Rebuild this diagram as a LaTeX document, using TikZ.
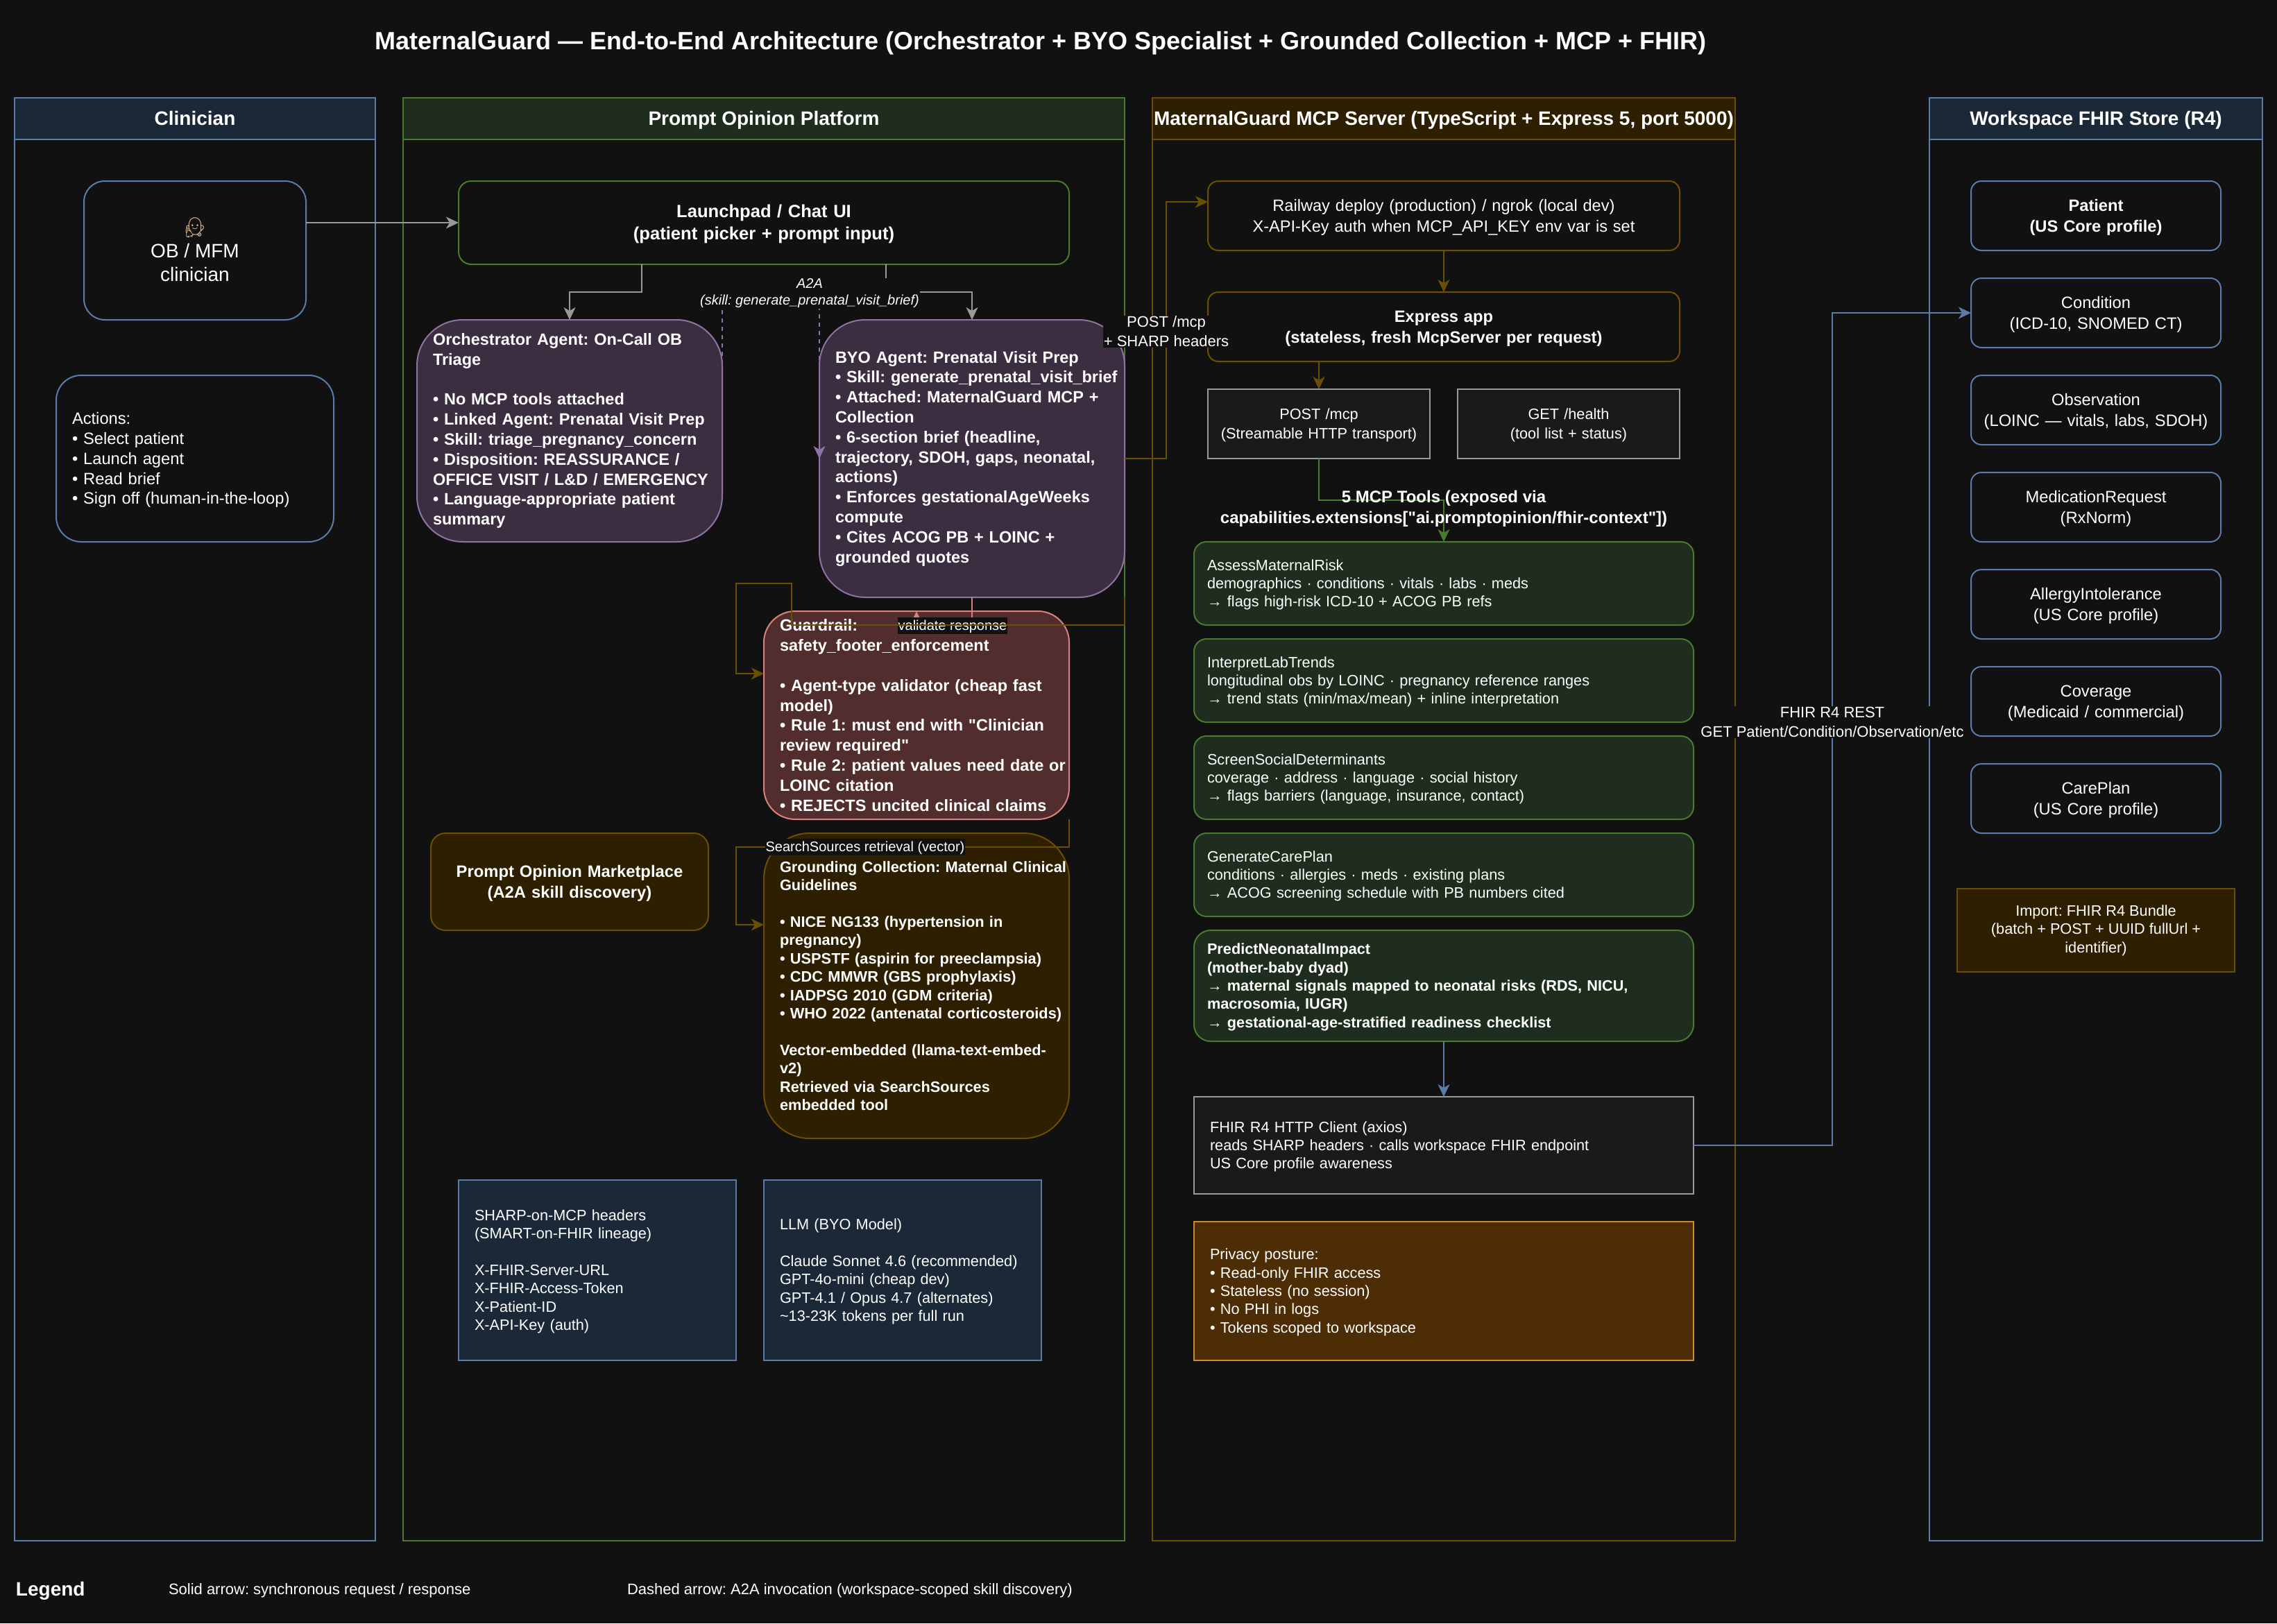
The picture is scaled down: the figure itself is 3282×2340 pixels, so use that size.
\documentclass[tikz,border=0pt]{standalone}
\usepackage{fontspec}
\setmainfont{Liberation Sans}[Ligatures=TeXOff]
\newfontfamily\emojifont{Noto Emoji}
\usetikzlibrary{arrows.meta}
\frenchspacing

\definecolor{cbg}{HTML}{111111}
\definecolor{cblue}{HTML}{5B7BA8}
\definecolor{cbluefill}{HTML}{1B2838}
\definecolor{cgreen}{HTML}{4A7A2E}
\definecolor{cgreenfill}{HTML}{1F2D1F}
\definecolor{cbrown}{HTML}{6B4F00}
\definecolor{cbrownfill}{HTML}{2D1F00}
\definecolor{cpurple}{HTML}{8F72A3}
\definecolor{cpurplefill}{HTML}{3A2E40}
\definecolor{cred}{HTML}{D98080}
\definecolor{credfill}{HTML}{522D2D}
\definecolor{cgrey}{HTML}{999999}
\definecolor{cgreyfill}{HTML}{1A1A1A}
\definecolor{corange}{HTML}{CC8A2E}
\definecolor{corangefill}{HTML}{4D2D06}
\definecolor{cemoji}{HTML}{E3B98F}

\tikzset{
  strutsize/.store in=\strutsize,
  strutsize=.9em,
  every node/.style={text=white,inner sep=0pt,outer sep=0pt,execute at begin node={\rule{0pt}{\strutsize}}},
  dim/.style 2 args={minimum width=#1,minimum height=#2},
  fnt/.style 2 args={font=\fontsize{#1}{#2}\selectfont},
  fntb/.style 2 args={font=\fontsize{#1}{#2}\selectfont\bfseries},
  boxed/.style 2 args={draw=#1,fill=#2,line width=2pt},
  arr/.style={line width=2pt,-{Stealth[length=18pt,width=17pt,inset=5pt]}},
  edgelabel/.style={fill=cbg,align=center,inner sep=1pt},
  lane/.style={boxed={#1}{cbg}},
  lanehead/.style 2 args={boxed={#1}{#2},text depth=6pt,fntb={28}{34}},
  agent/.style={boxed={cpurple}{cpurplefill},rounded corners=66pt,dim={440}{#1},align=left,text width=394,fntb={23.5}{28.8},strutsize=.7em},
  store/.style={boxed={cblue}{cbg},rounded corners=15pt,dim={360}{100},align=center,text width=340,fnt={23.7}{30}},
  mcptool/.style={boxed={cgreen}{cgreenfill},rounded corners=18pt,dim={720}{120},align=left,text width=682,fnt={21.7}{26.4}},
  note/.style={boxed={cblue}{cbluefill},dim={400}{260},align=left,text width=354,fnt={21.7}{26.4}},
  server/.style={boxed={cbrown}{cbg},rounded corners=15pt,dim={680}{100},align=center,text width=660},
  route/.style={boxed={cgrey}{cgreyfill},dim={320}{100},align=center,text width=310,fnt={21.7}{28}}
}

\begin{document}
\begin{tikzpicture}[x=1pt,y=-1pt]

\fill[cbg] (0,0) rectangle (3282,2340);

%Titel
\node[fntb={36}{43}] (title) at (1500,59) {MaternalGuard — End-to-End Architecture (Orchestrator + BYO Specialist + Grounded Collection + MCP + FHIR)};

%Lanes
\node[lane=cblue,dim={520}{2080}] (clinicianlane) at (281,1181) {};
\node[lanehead={cblue}{cbluefill},dim={520}{60}] (clinicianhead) at (281,171) {Clinician};
\node[lane=cgreen,dim={1040}{2080}] (platformlane) at (1101,1181) {};
\node[lanehead={cgreen}{cgreenfill},dim={1040}{60}] (platformhead) at (1101,171) {Prompt Opinion Platform};
\node[lane=cbrown,dim={840}{2080}] (mcplane) at (2081,1181) {};
\node[lanehead={cbrown}{cbrownfill},dim={840}{60}] (mcphead) at (2081,171) {MaternalGuard MCP Server (TypeScript + Express 5, port 5000)};
\node[lane=cblue,dim={480}{2080}] (fhirlane) at (3021,1181) {};
\node[lanehead={cblue}{cbluefill},dim={480}{60}] (fhirhead) at (3021,171) {Workspace FHIR Store (R4)};

%Clinician
\node[boxed={cblue}{cbg},rounded corners=30pt,dim={320}{200},align=center,fnt={28}{34}] (ob) at (281,361)
  {\raisebox{0pt}[.75em][0pt]{\emojifont\color{cemoji}^^^^^^01f469^^^^200d^^^^2695^^^^fe0f}\\OB / MFM\\clinician};
\node[boxed={cblue}{cbg},rounded corners=36pt,dim={400}{240},align=left,text width=354,fnt={23.7}{28.8}] (actions) at (281,661)
  {Actions:\\• Select patient\\• Launch agent\\• Read brief\\• Sign off (human-in-the-loop)};

%Platform
\node[boxed={cgreen}{cbg},rounded corners=18pt,dim={880}{120},align=center,text width=860,fntb={25.6}{32}] (launch) at (1101,321)
  {Launchpad / Chat UI\\(patient picker + prompt input)};
\node[agent=320] (orch) at (821,621)
  {Orchestrator Agent: On-Call OB\\Triage\\~\\• No MCP tools attached\\\mbox{• Linked Agent: Prenatal Visit Prep}\\• Skill: triage\_pregnancy\_concern\\• Disposition: REASSURANCE /\\\mbox{OFFICE VISIT / L\&D / EMERGENCY}\\• Language-appropriate patient\\summary};
\node[agent=400] (byo) at (1401,661)
  {BYO Agent: Prenatal Visit Prep\\\mbox{• Skill: generate\_prenatal\_visit\_brief}\\• Attached: MaternalGuard MCP +\\Collection\\• 6-section brief (headline,\\trajectory, SDOH, gaps, neonatal,\\actions)\\• Enforces gestationalAgeWeeks\\compute\\• Cites ACOG PB + LOINC +\\grounded quotes};
\node[boxed={cred}{credfill},rounded corners=45pt,dim={440}{300},align=left,text width=394,fntb={23.5}{28.8},strutsize=.7em] (guard) at (1321,1031)
  {Guardrail:\\safety\_footer\_enforcement\\~\\• Agent-type validator (cheap fast\\model)\\• Rule 1: must end with "Clinician\\review required"\\\mbox{• Rule 2: patient values need date or}\\LOINC citation\\• REJECTS uncited clinical claims};
\node[boxed={cbrown}{cbrownfill},rounded corners=21pt,dim={400}{140},align=center,text width=380,fntb={23.8}{30}] (market) at (821,1271)
  {Prompt Opinion Marketplace\\(A2A skill discovery)};
\node[boxed={cbrown}{cbrownfill},rounded corners=66pt,dim={440}{440},align=left,text width=394,fntb={21.8}{26.4},strutsize=.7em] (ground) at (1321,1421)
  {\mbox{Grounding Collection: Maternal Clinical}\\Guidelines\\~\\• NICE NG133 (hypertension in\\pregnancy)\\• USPSTF (aspirin for preeclampsia)\\• CDC MMWR (GBS prophylaxis)\\• IADPSG 2010 (GDM criteria)\\\mbox{• WHO 2022 (antenatal corticosteroids)}\\~\\\mbox{Vector-embedded (llama-text-embed-}\\v2)\\Retrieved via SearchSources\\embedded tool};
\node[note] (sharp) at (861,1831)
  {SHARP-on-MCP headers\\(SMART-on-FHIR lineage)\\~\\X-FHIR-Server-URL\\X-FHIR-Access-Token\\X-Patient-ID\\X-API-Key (auth)};
\node[note] (llm) at (1301,1831)
  {LLM (BYO Model)\\~\\Claude Sonnet 4.6 (recommended)\\GPT-4o-mini (cheap dev)\\GPT-4.1 / Opus 4.7 (alternates)\\\textasciitilde13-23K tokens per full run};

%MCP Server
\node[server,fnt={23.6}{30}] (rail) at (2081,311)
  {Railway deploy (production) / ngrok (local dev)\\X-API-Key auth when MCP\_API\_KEY env var is set};
\node[server,fntb={23.7}{30}] (express) at (2081,471)
  {Express app\\(stateless, fresh McpServer per request)};
\node[route] (post) at (1901,611) {POST /mcp\\(Streamable HTTP transport)};
\node[route] (health) at (2261,611) {GET /health\\(tool list + status)};
\node[mcptool] (assess) at (2081,841)
  {AssessMaternalRisk\\demographics · conditions · vitals · labs · meds\\→ flags high-risk ICD-10 + ACOG PB refs};
\node[mcptool] (labs) at (2081,981)
  {InterpretLabTrends\\longitudinal obs by LOINC · pregnancy reference ranges\\→ trend stats (min/max/mean) + inline interpretation};
\node[mcptool] (social) at (2081,1121)
  {ScreenSocialDeterminants\\coverage · address · language · social history\\→ flags barriers (language, insurance, contact)};
\node[mcptool] (plan) at (2081,1261)
  {GenerateCarePlan\\conditions · allergies · meds · existing plans\\→ ACOG screening schedule with PB numbers cited};
\node[mcptool,dim={720}{160},rounded corners=24pt,fntb={21.7}{26.4}] (neonatal) at (2081,1421)
  {PredictNeonatalImpact\\(mother-baby dyad)\\→ maternal signals mapped to neonatal risks (RDS, NICU,\\macrosomia, IUGR)\\→ gestational-age-stratified readiness checklist};
\node[boxed={cgrey}{cgreyfill},dim={720}{140},align=left,text width=674,fnt={21.7}{26.4}] (client) at (2081,1651)
  {FHIR R4 HTTP Client (axios)\\reads SHARP headers · calls workspace FHIR endpoint\\US Core profile awareness};
\node[boxed={corange}{corangefill},dim={720}{200},align=left,text width=674,fnt={21.7}{26.4}] (privacy) at (2081,1861)
  {Privacy posture:\\• Read-only FHIR access\\• Stateless (no session)\\• No PHI in logs\\• Tokens scoped to workspace};

%FHIR Store
\node[store,fntb={23.7}{30}] (patient) at (3021,311) {Patient\\(US Core profile)};
\node[store] (condition) at (3021,451) {Condition\\(ICD-10, SNOMED CT)};
\node[store] (observation) at (3021,591) {Observation\\(LOINC — vitals, labs, SDOH)};
\node[store] (medication) at (3021,731) {MedicationRequest\\(RxNorm)};
\node[store] (allergy) at (3021,871) {AllergyIntolerance\\(US Core profile)};
\node[store] (coverage) at (3021,1011) {Coverage\\(Medicaid / commercial)};
\node[store] (careplan) at (3021,1151) {CarePlan\\(US Core profile)};
\node[boxed={cbrown}{cbrownfill},dim={400}{120},align=center,fnt={21.7}{26.4}] (bundle) at (3021,1341)
  {Import: FHIR R4 Bundle\\(batch + POST + UUID fullUrl +\\identifier)};

%Verbindungen
\draw[arr,cgrey] (ob.east |- launch.west) -- (launch.west);
\draw[arr,cgrey] (925,0 |- launch.south) -- (925,421) -- (821,421) -- (orch.north);
\draw[arr,cgrey] (1277,0 |- launch.south) -- (1277,421) -- (1401,421) -- (byo.north);
\draw[arr,cpurple,dash pattern=on 6pt off 6pt] (orch.east) -- (1041,421) -- (1181,421) -- (byo.west);
\node[edgelabel,font=\fontsize{20}{24}\selectfont\itshape] (a2alabel) at (1167,423) {A2A\\(skill: generate\_prenatal\_visit\_brief)};

\draw[arr,cred] (byo.south) -- (1401,901) -- (1321,901) -- (guard.north);
\node[edgelabel,fnt={20}{24}] (validatelabel) at (1373,902) {validate response};
\draw[arr,cbrown] (byo.south east) -- (1621,901) -- (1141,901) -- (1141,841) -- (1061,841) -- (1061,971) -- (guard.west |- 0,971);

\draw[arr,cbrown] (guard.south east) -- (1541,1221) -- (1061,1221) -- (1061,1333) -- (ground.west |- 0,1333);
\node[edgelabel,fnt={20}{24}] (searchlabel) at (1247,1221) {SearchSources retrieval (vector)};

\draw[arr,cbrown] (byo.east) -- (1681,661) -- (1681,291) -- (rail.west |- 0,291);
\node[edgelabel,fnt={22}{28}] (postlabel) at (1681,478) {POST /mcp\\+ SHARP headers};

\draw[arr,cbrown] (rail.south) -- (express.north);
\draw[arr,cbrown] (1901,0 |- express.south) -- (post.north);
\draw[arr,cgreen] (post.south) -- (1901,721) -- (2081,721) -- (assess.north);
\node[align=center,fntb={24}{30}] (toolstitle) at (2081,733) {5 MCP Tools (exposed via\\capabilities.extensions["ai.promptopinion/fhir-context"])};

\draw[arr,cblue] (neonatal.south) -- (client.north);
\draw[arr,cblue] (client.east) -- (2641,1651) -- (2641,451) -- (condition.west);
\node[edgelabel,fnt={22}{28}] (fhirlabel) at (2641,1041) {FHIR R4 REST\\GET Patient/Condition/Observation/etc};

%Legende
\node[anchor=west,fntb={28}{34}] (legend) at (23,2291) {Legend};
\node[anchor=west,fnt={22}{26.4}] (legendsolid) at (243,2291) {Solid arrow: synchronous request / response};
\node[anchor=west,fnt={22}{26.4}] (legenddashed) at (904,2291) {Dashed arrow: A2A invocation (workspace-scoped skill discovery)};

\end{tikzpicture}
\end{document}
